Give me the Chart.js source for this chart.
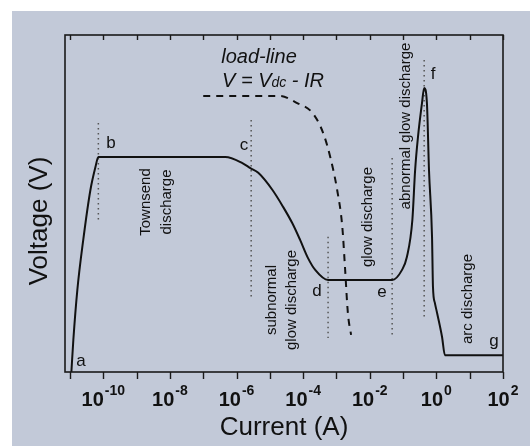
<!DOCTYPE html>
<html>
<head>
<meta charset="utf-8">
<script src="https://cdn.jsdelivr.net/npm/chart.js@4.4.1/dist/chart.umd.min.js"></script>
<style>
  body { margin: 0; background: #fff; }
  canvas { display: block; }
</style>
</head>
<body>
<canvas id="myChart" width="530" height="446"></canvas>
<script>
// データ

// 放電の V-I 特性
const curveCurrent = [
  1.1e-11, 1.26e-11, 1.66e-11, 2.5e-11, 4.1e-11, 5.8e-11, 7.1e-11,
  4.6e-7, 1.5e-6, 2.6e-6, 4.5e-6, 1.2e-5, 2.5e-5, 4.7e-5, 8.1e-5, 1.4e-4, 2.3e-4, 5.6e-4,
  4.7e-2, 9.3e-2, 0.13, 0.19, 0.23, 0.28, 0.37, 0.43,
  0.52, 0.60, 0.74, 0.79, 0.9, 1.05, 1.48, 1.8, 100
];
const curveVoltage = [
  0, 9.5, 24.3, 39.2, 54.0, 60.8, 63.8,
  63.8, 62.0, 60.5, 59.1, 54.0, 49.0, 44.2, 39.2, 33.8, 30.3, 27.3,
  27.3, 30.3, 34.1, 45.1, 59.9, 69.7, 79.8, 84.3,
  79.8, 59.9, 40.1, 25.2, 20.5, 17.5, 10.4, 5.0, 5.0
];

// 負荷線 V = Vdc - IR
const loadCurrent = [1e-7, 2.0e-5, 6.6e-5, 1.9e-4, 4.0e-4, 6.5e-4, 1.05e-3, 1.5e-3, 1.8e-3, 2.2e-3, 2.75e-3];
const loadVoltage = [81.9, 81.9, 79.8, 76.9, 70.9, 63.8, 54.0, 43.0, 31.2, 17.5, 11.0];

// 点線の区切り (b, c, d, e, f)
const markerNames = ['b', 'c', 'd', 'e', 'f'];
const markerCurrent = [7.1e-11, 2.75e-6, 5.6e-4, 4.7e-2, 0.43];
const markerTop = [73.9, 74.8, 40.1, 63.5, 92.6];
const markerBottom = [44.5, 22.3, 10.1, 10.4, 15.4];

// 目盛り
const tickExponents = [-11, -10, -9, -8, -7, -6, -5, -4, -3, -2, -1, 0, 1, 2];
const labelExponents = [-10, -8, -6, -4, -2, 0, 2];

const FONT = '"Liberation Sans", Arial, sans-serif';

function vText(ctx, text, x, y, font) {
  ctx.save();
  ctx.translate(x, y);
  ctx.rotate(-Math.PI / 2);
  ctx.font = font;
  ctx.textAlign = 'center';
  ctx.textBaseline = 'middle';
  ctx.fillText(text, 0, 0);
  ctx.restore();
}

const decorPlugin = {
  id: 'decor',
  beforeDraw(chart) {
    const ctx = chart.ctx;
    ctx.save();
    ctx.fillStyle = '#ffffff';
    ctx.fillRect(0, 0, chart.width, chart.height);
    ctx.fillStyle = '#c2c9d8';
    ctx.fillRect(12, 11, chart.width - 12, chart.height - 11);
    ctx.restore();
  },
  afterDraw(chart) {
    const ctx = chart.ctx;
    const area = chart.chartArea;
    const xs = chart.scales.x;

    ctx.save();
    // 枠
    ctx.strokeStyle = '#1a1a1a';
    ctx.lineWidth = 1.6;
    ctx.strokeRect(area.left, area.top, area.right - area.left, area.bottom - area.top);

    // 目盛り線
    ctx.lineWidth = 1.4;
    tickExponents.forEach(e => {
      const px = Math.round(xs.getPixelForValue(Math.pow(10, e))) + 0.5;
      ctx.beginPath();
      ctx.moveTo(px, area.bottom);
      ctx.lineTo(px, area.bottom + 7);
      ctx.moveTo(px, area.top);
      ctx.lineTo(px, area.top + 5);
      ctx.stroke();
    });

    // 目盛りラベル 10^n
    ctx.fillStyle = '#111';
    ctx.textAlign = 'left';
    ctx.textBaseline = 'alphabetic';
    labelExponents.forEach(e => {
      const px = xs.getPixelForValue(Math.pow(10, e));
      ctx.font = 'bold 20px ' + FONT;
      const w1 = ctx.measureText('10').width;
      ctx.font = 'bold 14px ' + FONT;
      const sup = String(e);
      const w2 = ctx.measureText(sup).width;
      const start = px - (w1 + w2 + 1) / 2;
      ctx.font = 'bold 20px ' + FONT;
      ctx.fillText('10', start, 406);
      ctx.font = 'bold 14px ' + FONT;
      ctx.fillText(sup, start + w1 + 1, 395);
    });

    // 軸タイトル
    ctx.font = '26px ' + FONT;
    ctx.textAlign = 'center';
    ctx.fillText('Current (A)', 284, 435);
    ctx.save();
    ctx.translate(47, 221);
    ctx.rotate(-Math.PI / 2);
    ctx.fillText('Voltage (V)', 0, 0);
    ctx.restore();

    // 点の名前
    ctx.font = '17px ' + FONT;
    ctx.textBaseline = 'middle';
    const letters = [['a', 81, 361], ['b', 111, 143], ['c', 244, 145], ['d', 317, 291],
                     ['e', 382, 292], ['f', 433, 74], ['g', 494, 341]];
    letters.forEach(([t, x, y]) => ctx.fillText(t, x, y));

    // 領域の説明（縦書き）
    const f15 = '15px ' + FONT;
    vText(ctx, 'Townsend', 146, 202, f15);
    vText(ctx, 'discharge', 167, 202, f15);
    vText(ctx, 'subnormal', 272, 300, f15);
    vText(ctx, 'glow discharge', 292, 300, f15);
    vText(ctx, 'glow discharge', 368, 217, f15);
    vText(ctx, 'abnormal glow discharge', 406, 126, f15);
    vText(ctx, 'arc discharge', 468, 299, f15);

    // 負荷線の式
    ctx.textBaseline = 'alphabetic';
    ctx.font = 'italic 20px ' + FONT;
    ctx.textAlign = 'center';
    ctx.fillText('load-line', 259, 63);
    ctx.textAlign = 'left';
    let x = 222;
    ctx.fillText('V = V', x, 87);
    x += ctx.measureText('V = V').width;
    ctx.font = 'italic 14px ' + FONT;
    ctx.fillText('dc', x, 87);
    x += ctx.measureText('dc').width;
    ctx.font = 'italic 20px ' + FONT;
    ctx.fillText(' - IR', x, 87);
    ctx.restore();
  }
};

const datasets = [
  {
    label: 'V-I',
    data: curveCurrent.map((c, i) => ({ x: c, y: curveVoltage[i] })),
    borderColor: '#111',
    borderWidth: 2,
    pointRadius: 0,
    cubicInterpolationMode: 'monotone'
  },
  {
    label: 'load-line',
    data: loadCurrent.map((c, i) => ({ x: c, y: loadVoltage[i] })),
    borderColor: '#111',
    borderWidth: 2,
    borderDash: [7, 6],
    pointRadius: 0,
    cubicInterpolationMode: 'monotone'
  }
];

markerNames.forEach((name, i) => {
  datasets.push({
    label: name,
    data: [
      { x: markerCurrent[i], y: markerTop[i] },
      { x: markerCurrent[i], y: markerBottom[i] }
    ],
    borderColor: '#555',
    borderWidth: 1.5,
    borderDash: [1.5, 3.5],
    pointRadius: 0
  });
});

new Chart(document.getElementById('myChart'), {
  type: 'line',
  data: { datasets: datasets },
  options: {
    responsive: false,
    animation: false,
    layout: { padding: { left: 65, top: 35, right: 27, bottom: 74 } },
    plugins: { legend: { display: false }, tooltip: { enabled: false } },
    scales: {
      x: { type: 'logarithmic', min: Math.pow(10, -11.15), max: 100, display: false },
      y: { type: 'linear', min: 0, max: 100, display: false }
    }
  },
  plugins: [decorPlugin]
});
</script>
</body>
</html>
